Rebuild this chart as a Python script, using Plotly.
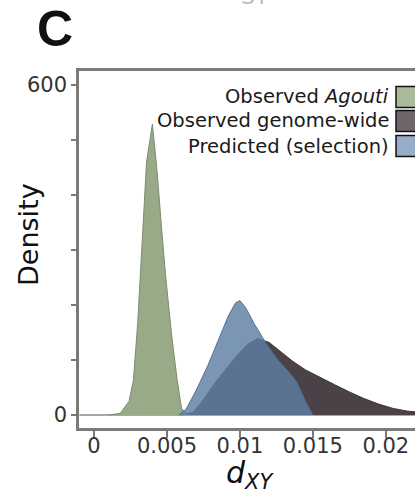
import plotly.graph_objects as go

# ---- data ----
agouti_x = [0.0010, 0.0018, 0.0024, 0.0027, 0.0030, 0.0033, 0.0036, 0.0040, 0.0043, 0.0046, 0.0049, 0.0053, 0.0057, 0.0060, 0.0064]
agouti_y = [0, 3, 25, 63, 170, 320, 460, 529, 450, 350, 255, 150, 63, 12, 0]

genome_x = [0.0060, 0.0068, 0.0075, 0.0082, 0.0090, 0.0098, 0.0105, 0.0112, 0.0120, 0.0128, 0.0136, 0.0145,
            0.0155, 0.0165, 0.0175, 0.0185, 0.0195, 0.0205, 0.0215, 0.0225, 0.0235]
genome_y = [0, 5, 28, 55, 82, 108, 128, 139, 132, 115, 98, 82, 68, 55, 42, 30, 20, 12, 7, 4, 2]

pred_x = [0.0058, 0.0063, 0.0070, 0.0078, 0.0085, 0.0092, 0.0097, 0.0100, 0.0104, 0.0110, 0.0118, 0.0126,
          0.0133, 0.0139, 0.0145, 0.0150]
pred_y = [0, 10, 45, 90, 135, 180, 204, 208, 195, 165, 130, 100, 80, 60, 25, 0]

base_x = [-0.001, 0.0235]
base_y = [0, 0]

x_ticks = [0, 0.005, 0.01, 0.015, 0.02]
x_ticktext = ["0", "0.005", "0.01", "0.015", "0.02"]
y_ticks = [0, 100, 200, 300, 400, 500, 600]
y_ticktext = ["0", "", "", "", "", "", "600"]

series_names = ["Observed <i>Agouti</i>", "Observed genome-wide", "Predicted (selection)"]

# ---- styles ----
GREEN = "rgb(152,170,136)"
DARK = "rgb(74,66,70)"
BLUE = "rgba(94,126,165,0.82)"
FONT = "DejaVu Sans"
AXIS = "#7a7a7a"

fig = go.Figure()
fig.add_trace(go.Scatter(x=base_x, y=base_y, mode="lines",
                         line=dict(color="#8a8a8a", width=1.5), hoverinfo="skip", showlegend=False))
fig.add_trace(go.Scatter(x=genome_x, y=genome_y, mode="lines", fill="tozeroy",
                         fillcolor=DARK, line=dict(color="rgb(60,54,58)", width=1), showlegend=False))
fig.add_trace(go.Scatter(x=agouti_x, y=agouti_y, mode="lines", fill="tozeroy",
                         fillcolor=GREEN, line=dict(color="rgb(125,140,112)", width=1), showlegend=False))
fig.add_trace(go.Scatter(x=pred_x, y=pred_y, mode="lines", fill="tozeroy",
                         fillcolor=BLUE, line=dict(color="rgba(80,105,140,0.9)", width=1), showlegend=False))

W, H = 415, 495
L, T, B = 79, 71, 67
PW, PH = W - L, H - T - B


def px(xp):
    return (xp - L) / PW


def py(yp):
    return (H - B - yp) / PH


annotations = []
shapes = []
# custom legend: text right, swatch at right
leg_rows = [(97, "rgb(170,186,155)"), (121, "rgb(110,102,106)"), (146, "rgb(150,172,200)")]
for name, (yc, col) in zip(series_names, leg_rows):
    annotations.append(dict(x=px(391), y=py(yc), xref="paper", yref="paper", text=name,
                            showarrow=False, xanchor="right", yanchor="middle",
                            font=dict(family=FONT, size=19.5, color="#1a1a1a")))
    shapes.append(dict(type="rect", xref="paper", yref="paper", x0=px(396), x1=px(420),
                       y0=py(yc - 10.5), y1=py(yc + 10.5), fillcolor=col,
                       line=dict(color="#111", width=1.5), layer="above"))

# panel label
annotations.append(dict(x=px(55), y=py(29), xref="paper", yref="paper", text="<b>C</b>",
                        showarrow=False, xanchor="center", yanchor="middle",
                        font=dict(family="Liberation Sans", size=50, color="#111")))
# faint text from the panel above (cut off at the top edge, as in the reference)
annotations.append(dict(x=px(255), y=py(-4), xref="paper", yref="paper", text="ST",
                        showarrow=False, xanchor="center", yanchor="middle",
                        font=dict(family=FONT, size=22, color="#bbbbbb")))
# y title
annotations.append(dict(x=px(28), y=py(235), xref="paper", yref="paper", text="Density",
                        showarrow=False, xanchor="center", yanchor="middle", textangle=-90,
                        font=dict(family=FONT, size=27, color="#111")))
# x title
annotations.append(dict(x=px(250), y=py(474), xref="paper", yref="paper",
                        text="<i>d</i><sub><i>XY</i></sub>",
                        showarrow=False, xanchor="center", yanchor="middle",
                        font=dict(family=FONT, size=30, color="#111")))

fig.update_layout(
    width=W, height=H,
    margin=dict(l=L, r=0, t=T, b=B, pad=0),
    paper_bgcolor="white", plot_bgcolor="white",
    showlegend=False,
    annotations=annotations, shapes=shapes,
    xaxis=dict(range=[-0.00103, 0.0220], tickvals=x_ticks, ticktext=x_ticktext,
               showgrid=False, zeroline=False, showline=True, linecolor=AXIS, linewidth=2.5,
               mirror=True, ticks="outside", ticklen=7, tickwidth=1.5, tickcolor=AXIS,
               ticklabelstandoff=-10,
               tickfont=dict(family=FONT, size=21, color="#333")),
    yaxis=dict(range=[-23.6, 625.5], tickvals=y_ticks, ticktext=y_ticktext,
               showgrid=False, zeroline=False, showline=True, linecolor=AXIS, linewidth=2.5,
               mirror=False, ticks="outside", ticklen=5, tickwidth=1.5, tickcolor=AXIS,
               tickfont=dict(family=FONT, size=21, color="#333")),
)

fig.write_html("out.html")
